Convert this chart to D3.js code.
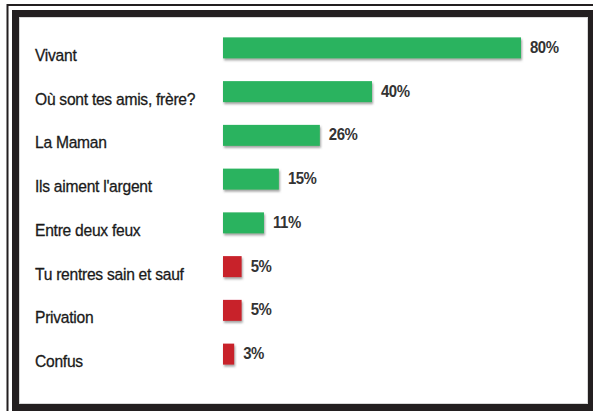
<!DOCTYPE html>
<html lang="fr">
<head>
    <meta charset="UTF-8">
    <style>
        html, body {
            margin:0;
            height:100%;
            overflow:hidden;
            background:#fff;
        }
        svg {
            position:absolute;
            top:0;
            left:0;
        }
    </style>
    <script src="https://d3js.org/d3.v7.min.js"></script>
</head>
<body>
<svg width="593" height="411"></svg>
<script>
    // chart data
    var categories = ["Vivant", "Où sont tes amis, frère?", "La Maman", "Ils aiment l'argent",
        "Entre deux feux", "Tu rentres sain et sauf", "Privation", "Confus"];
    var values = [80, 40, 26, 15, 11, 5, 5, 3];
    var groups = ["pos", "pos", "pos", "pos", "pos", "neg", "neg", "neg"];

    var colors = {pos: "#2bb35e", neg: "#c8202b"};

    var svg = d3.select("svg");

    // frame: thin outer line + thick inner border
    svg.append("rect")
        .attr("x", 7.5).attr("y", 5)
        .attr("width", 620).attr("height", 430)
        .attr("fill", "none")
        .attr("stroke", "#231f20")
        .attr("stroke-width", 2);
    svg.append("rect")
        .attr("x", 15.5).attr("y", 13.5)
        .attr("width", 576).attr("height", 394)
        .attr("fill", "#fff")
        .attr("stroke", "#231f20")
        .attr("stroke-width", 7);
    svg.append("rect")
        .attr("x", 19.5).attr("y", 17.5)
        .attr("width", 568).attr("height", 386)
        .attr("fill", "none")
        .attr("stroke", "#d8d8d8")
        .attr("stroke-width", 1);

    var defs = svg.append("defs");
    var f = defs.append("filter").attr("id", "shadow")
        .attr("x", "-10%").attr("y", "-30%").attr("width", "130%").attr("height", "180%");
    f.append("feDropShadow")
        .attr("dx", 1).attr("dy", 2)
        .attr("stdDeviation", 1.2)
        .attr("flood-color", "#555")
        .attr("flood-opacity", 0.55);

    var x = d3.scaleLinear().domain([0, 80]).range([223, 521]);
    var y = d3.scaleBand().domain(categories).range([26, 376]).paddingInner(0.52).paddingOuter(0.26);

    var g = svg.append("g");

    g.selectAll(".bar")
        .data(values)
        .enter().append("rect")
        .attr("class", "bar")
        .attr("x", x(0))
        .attr("y", function(d, i) { return y(categories[i]); })
        .attr("width", function(d) { return x(d) - x(0); })
        .attr("height", y.bandwidth())
        .attr("fill", function(d, i) { return colors[groups[i]]; })
        .attr("filter", "url(#shadow)");

    // value labels, bold and condensed
    g.selectAll(".val")
        .data(values)
        .enter().append("text")
        .attr("class", "val")
        .attr("transform", function(d, i) {
            return "translate(" + (x(d) + 9) + "," + (y(categories[i]) + y.bandwidth() / 2 - 1) + ") scale(0.88,1)";
        })
        .attr("dy", "0.35em")
        .attr("font-family", "'Liberation Sans', Arial, sans-serif")
        .attr("font-weight", "bold")
        .attr("font-size", 17)
        .attr("letter-spacing", -0.5)
        .attr("fill", "#333")
        .text(function(d) { return d + "%"; });

    g.selectAll(".cat")
        .data(categories)
        .enter().append("text")
        .attr("class", "cat")
        .attr("transform", function(d) {
            return "translate(35," + (y(d) + y.bandwidth() / 2 + 7) + ") scale(0.92,1)";
        })
        .attr("dy", "0.35em")
        .attr("font-family", "'Liberation Sans', Arial, sans-serif")
        .attr("font-size", 17)
        .attr("letter-spacing", -0.3)
        .attr("fill", "#1a1a1a")
        .attr("stroke", "#1a1a1a")
        .attr("stroke-width", 0.3)
        .text(function(d) { return d; });
</script>
</body>
</html>
